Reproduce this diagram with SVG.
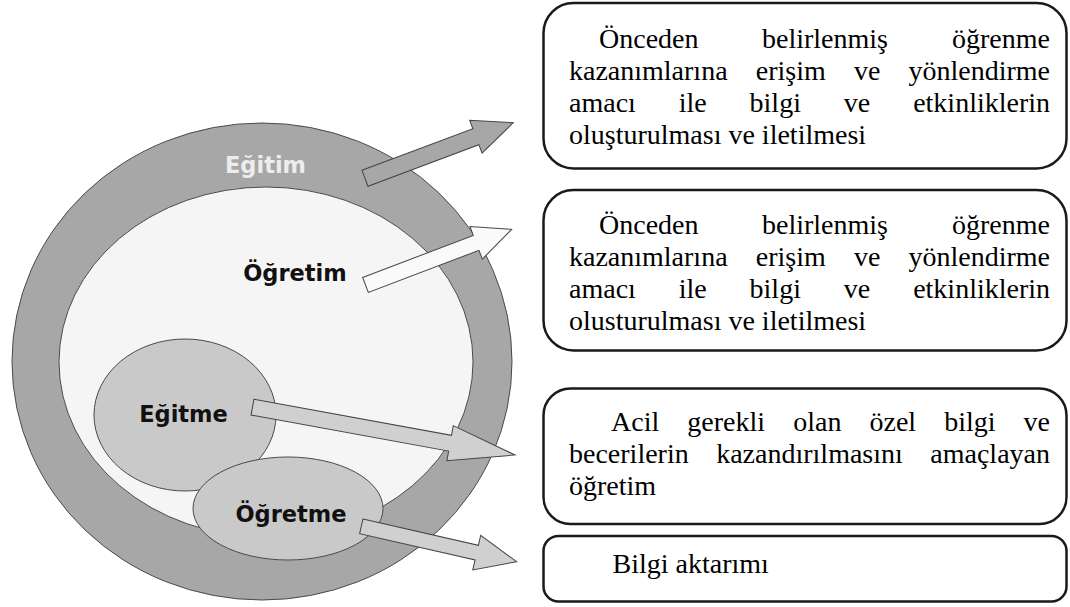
<svg xmlns="http://www.w3.org/2000/svg" width="1070" height="607" viewBox="0 0 1070 607">
<style>
.box{fill:#ffffff;stroke:#1a1a1a;stroke-width:2.5}
.t{font-family:"Liberation Serif","Times New Roman",serif;font-size:28px;fill:#000}
.lbl{font-family:"DejaVu Sans",Verdana,sans-serif;font-weight:bold;font-size:22.5px;fill:#111;text-anchor:middle}
.edge{stroke:#4a4a4a;stroke-width:1}
.arr{stroke:#444;stroke-width:1;stroke-linejoin:miter}
</style>
<rect width="1070" height="607" fill="#ffffff"/>

<g id="box1">
<rect class="box" x="543.5" y="3" width="523" height="165.5" rx="30" ry="30"/>
<text class="t" y="47.5"><tspan x="599">Önceden</tspan><tspan x="762">belirlenmiş</tspan><tspan x="1050" text-anchor="end">öğrenme</tspan></text>
<text class="t" y="79.5"><tspan x="569">kazanımlarına</tspan><tspan x="755.8">erişim</tspan><tspan x="854">ve</tspan><tspan x="1050" text-anchor="end">yönlendirme</tspan></text>
<text class="t" y="111.5"><tspan x="569">amacı</tspan><tspan x="678.7">ile</tspan><tspan x="749.6">bilgi</tspan><tspan x="843.8">ve</tspan><tspan x="1050" text-anchor="end">etkinliklerin</tspan></text>
<text class="t" x="569" y="143.5">oluşturulması ve iletilmesi</text>
</g>

<g id="box2">
<rect class="box" x="543.5" y="190" width="523" height="160.5" rx="30" ry="30"/>
<text class="t" y="234"><tspan x="599">Önceden</tspan><tspan x="762">belirlenmiş</tspan><tspan x="1050" text-anchor="end">öğrenme</tspan></text>
<text class="t" y="266"><tspan x="569">kazanımlarına</tspan><tspan x="755.8">erişim</tspan><tspan x="854">ve</tspan><tspan x="1050" text-anchor="end">yönlendirme</tspan></text>
<text class="t" y="298"><tspan x="569">amacı</tspan><tspan x="678.7">ile</tspan><tspan x="749.6">bilgi</tspan><tspan x="843.8">ve</tspan><tspan x="1050" text-anchor="end">etkinliklerin</tspan></text>
<text class="t" x="569" y="330">olusturulması ve iletilmesi</text>
</g>

<g id="box3">
<rect class="box" x="543.5" y="388.5" width="523" height="135.5" rx="27" ry="27"/>
<text class="t" y="431"><tspan x="611">Acil</tspan><tspan x="687.3">gerekli</tspan><tspan x="793.2">olan</tspan><tspan x="869.5">özel</tspan><tspan x="944.2">bilgi</tspan><tspan x="1050" text-anchor="end">ve</tspan></text>
<text class="t" y="463"><tspan x="569">becerilerin</tspan><tspan x="716.2">kazandırılmasını</tspan><tspan x="1050" text-anchor="end">amaçlayan</tspan></text>
<text class="t" x="569" y="495">öğretim</text>
</g>

<g id="box4">
<rect class="box" x="543.5" y="536" width="523" height="65.5" rx="15" ry="15"/>
<text class="t" x="612.5" y="572.5">Bilgi aktarımı</text>
</g>

<g id="egitim">
<ellipse class="edge" cx="262" cy="361.5" rx="250" ry="238.5" fill="#a7a7a7"/>
<text class="lbl" x="265.5" y="173" style="fill:#ededed">Eğitim</text>
</g>

<g id="ogretim">
<ellipse class="edge" cx="266" cy="362" rx="207" ry="175" fill="#f5f5f5"/>
<text class="lbl" x="295" y="281">Öğretim</text>
</g>

<g id="egitme">
<ellipse class="edge" cx="185" cy="415" rx="91" ry="76" fill="#c9c9c9"/>
<text class="lbl" x="183.5" y="422">Eğitme</text>
</g>

<g id="ogretme">
<ellipse class="edge" cx="288" cy="508.5" rx="95" ry="51.5" fill="#c9c9c9"/>
<text class="lbl" x="291" y="522">Öğretme</text>
</g>

<g id="connectors">
<polygon class="arr" fill="#a7a7a7" transform="translate(365,178.3) rotate(-20.55)" points="0,-8.5 118.4,-8.5 118.4,-17.6 158.4,0 118.4,17.6 118.4,8.5 0,8.5"/>
<polygon class="arr" fill="#fafafa" transform="translate(365.5,285) rotate(-20.86)" points="0,-8 118.4,-8 118.4,-17.4 156.4,0 118.4,17.4 118.4,8 0,8"/>
<polygon class="arr" fill="#d0d0d0" transform="translate(252.5,407.2) rotate(10.32)" points="0,-8 200.8,-8 200.8,-17.8 266.8,0 200.8,17.8 200.8,8 0,8"/>
<polygon class="arr" fill="#d0d0d0" transform="translate(361.3,526.3) rotate(12.83)" points="0,-7.5 118.4,-7.5 118.4,-17.8 159.4,0 118.4,17.8 118.4,7.5 0,7.5"/>
</g>
</svg>
